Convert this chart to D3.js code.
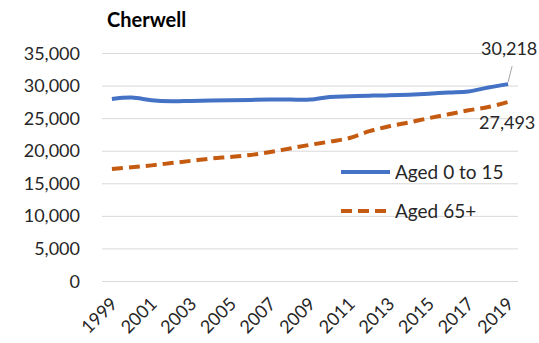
<!DOCTYPE html>
<html>
<head>
<meta charset="utf-8">
<script src="https://cdn.jsdelivr.net/npm/d3@7"></script>
<style>
  html, body { margin: 0; padding: 0; background: #fff; }
  svg text { font-family: Lato, "Open Sans", sans-serif; fill: #262626; }
</style>
</head>
<body>
<svg id="chart" width="539" height="343"></svg>
<script>
// Cherwell population by age group, 1999–2019
const years = d3.range(1999, 2020);
const aged0to15 = [27950, 28150, 27750, 27600, 27650, 27700, 27750, 27800, 27850, 27850,
                   27850, 28250, 28350, 28450, 28500, 28600, 28750, 28950, 29100, 29700, 30218];
const aged65plus = [17200, 17450, 17750, 18100, 18450, 18800, 19050, 19350, 19800, 20350,
                    20900, 21400, 21950, 23000, 23750, 24350, 25000, 25600, 26200, 26700, 27493];
const yTicks = [0, 5000, 10000, 15000, 20000, 25000, 30000, 35000];
const xTickYears = years.filter(y => (y - 1999) % 2 === 0);
const seriesNames = ["Aged 0 to 15", "Aged 65+"];
const seriesColors = ["#4472C4", "#C55A11"];

const svg = d3.select("#chart");
const margin = { left: 102, right: 21, top: 53, bottom: 62 };
const W = 539, H = 343;

const x = d3.scalePoint().domain(years).range([margin.left, W - margin.right]).padding(0.5);
const y = d3.scaleLinear().domain([0, 35000]).range([H - margin.bottom, margin.top]);

// title
svg.append("text").attr("x", 107).attr("y", 27)
  .attr("font-size", 20).attr("font-weight", "bold")
  .style("fill", "#000").text("Cherwell");

// gridlines + y labels
const yAxis = d3.axisLeft(y).tickValues(yTicks)
  .tickSize(-(W - margin.right - margin.left))
  .tickFormat(d3.format(","));
const gy = svg.append("g").attr("transform", `translate(${margin.left},0)`).call(yAxis);
gy.select(".domain").remove();
gy.selectAll(".tick line").attr("stroke", "#D9D9D9").attr("stroke-width", 1);
gy.selectAll(".tick text").attr("x", -22).attr("font-size", 18).attr("dy", "0.34em");

// x labels, rotated
const xAxis = d3.axisBottom(x).tickValues(xTickYears).tickSize(0);
const gx = svg.append("g").attr("transform", `translate(0,${H - margin.bottom})`).call(xAxis);
gx.select(".domain").remove();
gx.selectAll(".tick text")
  .attr("font-size", 18)
  .attr("text-anchor", "end")
  .attr("dy", 0)
  .attr("y", 0)
  .attr("transform", "translate(6,24) rotate(-45)");

const line = d3.line().x((d, i) => x(years[i])).y(d => y(d)).curve(d3.curveCatmullRom.alpha(0.5));

svg.append("path").datum(aged65plus).attr("d", line)
  .attr("fill", "none").attr("stroke", seriesColors[1]).attr("stroke-width", 4)
  .attr("stroke-dasharray", "11,6");
svg.append("path").datum(aged0to15).attr("d", line)
  .attr("fill", "none").attr("stroke", seriesColors[0]).attr("stroke-width", 4);

// end value labels
const lastX = x(years[years.length - 1]);
const lastBlue = aged0to15[aged0to15.length - 1];
const lastOrange = aged65plus[aged65plus.length - 1];
svg.append("line")
  .attr("x1", lastX).attr("y1", y(lastBlue) - 2)
  .attr("x2", lastX + 4).attr("y2", y(lastBlue) - 18)
  .attr("stroke", "#A6A6A6").attr("stroke-width", 1);
svg.append("text").attr("x", 481).attr("y", y(lastBlue) - 29)
  .attr("font-size", 18).text(d3.format(",")(lastBlue));
svg.append("text").attr("x", 479).attr("y", y(lastOrange) + 27)
  .attr("font-size", 18).text(d3.format(",")(lastOrange));

// legend
const legend = svg.append("g");
[0, 1].forEach(i => {
  const ly = 172 + i * 39;
  legend.append("line").attr("x1", 341).attr("x2", 390).attr("y1", ly).attr("y2", ly)
    .attr("stroke", seriesColors[i]).attr("stroke-width", 4)
    .attr("stroke-dasharray", i === 1 ? "11,6" : null);
  legend.append("text").attr("x", 395).attr("y", ly).attr("dy", "0.35em")
    .attr("font-size", 19).text(seriesNames[i]);
});
</script>
</body>
</html>
